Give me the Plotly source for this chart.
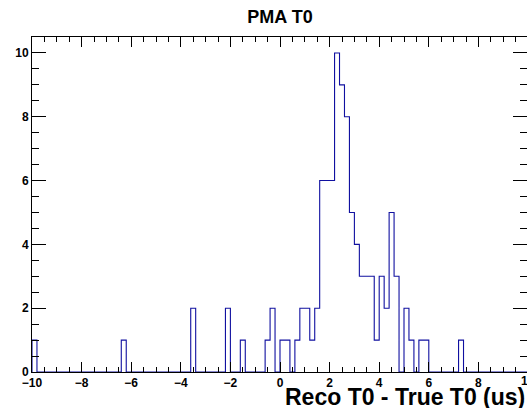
import numpy as np
import plotly.graph_objects as go

# Histogram: 100 bins from -10 to 10 (bin width 0.2)
x_min = -10.0
x_max = 10.0
n_bins = 100
# non-empty bins: index -> count
bin_index = [0, 18, 32, 39, 42, 47, 48, 50, 51, 53, 54, 55, 56, 57, 58, 59, 60,
             61, 62, 63, 64, 65, 66, 67, 68, 69, 70, 71, 72, 73, 75, 76, 78, 79, 86]
bin_count = [1, 1, 2, 2, 1, 1, 2, 1, 1, 1, 2, 2, 1, 2, 6, 6, 6,
             10, 9, 8, 5, 4, 3, 3, 3, 1, 3, 2, 5, 3, 2, 1, 1, 1, 1]

title_text = "PMA T0"
x_title = "Reco T0 - True T0 (us)"
x_tickvals = [-10, -8, -6, -4, -2, 0, 2, 4, 6, 8]
x_last_tick = 10
y_tickvals = [0, 2, 4, 6, 8, 10]

counts = np.zeros(n_bins)
for i, c in zip(bin_index, bin_count):
    counts[i] = c
edges = np.linspace(x_min, x_max, n_bins + 1)

# step outline path
px, py = [edges[0]], [0]
for i in range(n_bins):
    px += [edges[i], edges[i + 1]]
    py += [counts[i], counts[i]]
px += [edges[-1]]
py += [0]

FONT = "Liberation Sans, Arial, Helvetica, sans-serif"
W, H = 527, 408
L, T, B = 32, 37, 36
plot_w = W - L
plot_h = H - T - B
# frame right edge sits 1px beyond the window (at 528)
xr_max = x_min + (x_max - x_min) * plot_w / (plot_w + 1)
last_tick_paper = (x_last_tick - x_min) / (xr_max - x_min)

fig = go.Figure()
fig.add_trace(go.Scatter(x=px, y=py, mode="lines",
                         line=dict(color="#1010a0", width=1.1),
                         hoverinfo="skip", showlegend=False))
fig.add_trace(go.Scatter(x=[None], y=[None], yaxis="y2", showlegend=False,
                         hoverinfo="skip"))

tickfont = dict(family=FONT, size=12, color="black", weight="bold")
fig.update_layout(
    width=W, height=H,
    margin=dict(l=L, r=0, t=T, b=B, pad=0),
    paper_bgcolor="white", plot_bgcolor="white",
    title=dict(text=title_text, x=(L + plot_w / 2 + 0.5) / W, xref="container",
               xanchor="center", y=1 - 17 / H, yref="container", yanchor="middle",
               font=dict(family=FONT, size=18, color="black", weight="bold")),
    xaxis=dict(range=[x_min, xr_max], tickvals=x_tickvals, ticks="inside",
               ticklen=10, tickwidth=1, tickcolor="black",
               showline=True, linecolor="black", linewidth=1, mirror="ticks",
               showgrid=False, zeroline=False, tickfont=tickfont,
               minor=dict(dtick=0.5, tick0=0, ticks="inside", ticklen=5,
                          tickwidth=1, tickcolor="black", showgrid=False)),
    yaxis=dict(range=[0, 10.5], tickvals=y_tickvals, ticks="inside",
               ticklen=14, tickwidth=1, tickcolor="black",
               showline=True, linecolor="black", linewidth=1, mirror=False,
               showgrid=False, zeroline=False, tickfont=tickfont,
               minor=dict(dtick=0.5, tick0=0, ticks="inside", ticklen=7,
                          tickwidth=1, tickcolor="black", showgrid=False)),
    yaxis2=dict(range=[0, 10.5], overlaying="y", side="right", tickvals=y_tickvals,
                ticks="inside", ticklen=14, tickwidth=1, tickcolor="black",
                showline=False, showticklabels=False, showgrid=False,
                zeroline=False,
                minor=dict(dtick=0.5, tick0=0, ticks="inside", ticklen=7,
                           tickwidth=1, tickcolor="black", showgrid=False)),
    annotations=[
        dict(text=x_title, xref="paper", yref="paper", x=1.0, y=-(397 - 372) / plot_h,
             xanchor="right", yanchor="middle", showarrow=False,
             font=dict(family=FONT, size=23, color="black", weight="bold")),
        # last tick label, centred on the frame edge just outside the window
        dict(text=str(x_last_tick), xref="paper", yref="paper", x=last_tick_paper,
             y=-(381 - 372) / plot_h, xanchor="center", yanchor="middle",
             showarrow=False, font=tickfont),
    ],
)

fig.write_html("out.html")
